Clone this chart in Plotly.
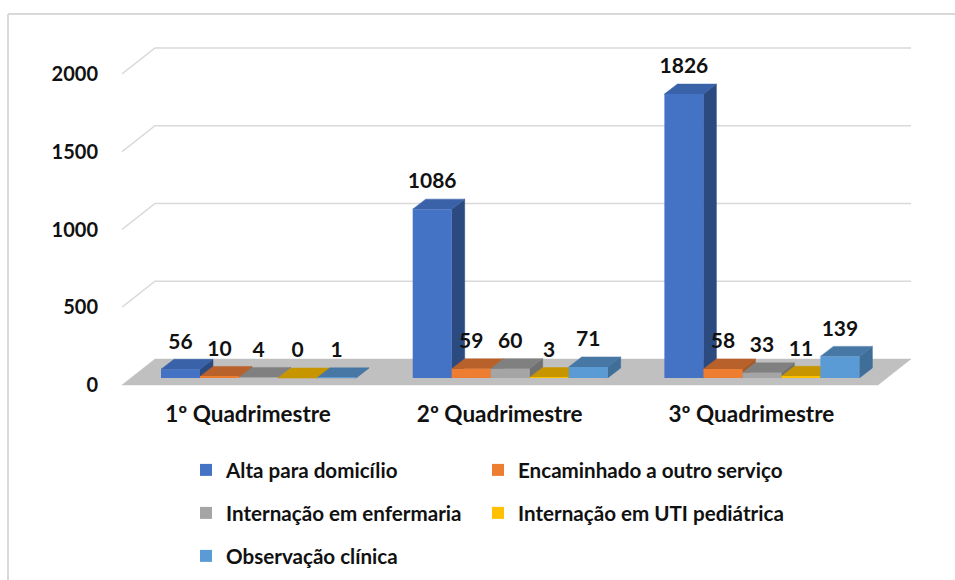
import plotly.graph_objects as go

categories = ["1º Quadrimestre", "2º Quadrimestre", "3º Quadrimestre"]
series_names = ["Alta para domicílio", "Encaminhado a outro serviço", "Internação em enfermaria",
                "Internação em UTI pediátrica", "Observação clínica"]
alta = [56, 1086, 1826]
encaminhado = [10, 59, 58]
enfermaria = [4, 60, 33]
uti = [0, 3, 11]
observacao = [1, 71, 139]
series_values = [alta, encaminhado, enfermaria, uti, observacao]
y_ticks = [0, 500, 1000, 1500, 2000]

front = ["#4472C4", "#ED7D31", "#A5A5A5", "#FFC000", "#5B9BD5"]
top = ["#3A62A8", "#B9612A", "#808080", "#C69500", "#4677A5"]
side = ["#2B4A80", "#A65A26", "#707070", "#A67D00", "#3F6E98"]

W, H = 955, 580
PX_X = 251.7            # pixels per category
PX_Y = 0.1555           # pixels per value unit
X0_PX, Y0_PX = 248, 385 # pixel of category 0 / value 0 on the front plane
L_PX, R_PX, T_PX, B_PX = 122, 940, 30, 398
FONT = "Lato"
TXT = "#111111"

ux = lambda px: px / PX_X
uy = lambda px: px / PX_Y
x_range = [(L_PX - X0_PX) / PX_X, (R_PX - X0_PX) / PX_X]
y_range = [(Y0_PX - B_PX) / PX_Y, (Y0_PX - T_PX) / PX_Y]
FLOOR_DX, FLOOR_DY = ux(33), uy(26)
BAR_DX, BAR_DY = ux(13), uy(10)
BASE = uy(7)
SHIFT = ux(10.5)
GROUP_W = ux(195)
BAR_W = GROUP_W / 5

fig = go.Figure()


def poly(xs, ys, color, axes=("x", "y")):
    fig.add_trace(go.Scatter(x=xs + xs[:1], y=ys + ys[:1], mode="lines", fill="toself", fillcolor=color,
                             line=dict(color=color, width=0.5), hoverinfo="skip", showlegend=False,
                             xaxis=axes[0], yaxis=axes[1]))


# floor
xl, xr = x_range[0], (878 - X0_PX) / PX_X
poly([xl, xr, xr + FLOOR_DX, xl + FLOOR_DX], [0, 0, FLOOR_DY, FLOOR_DY], "#C0C0C0")

# back gridlines with the left wall edge
for v in y_ticks[1:]:
    fig.add_trace(go.Scatter(x=[xl, xl + FLOOR_DX, xr + FLOOR_DX], y=[v, v + FLOOR_DY, v + FLOOR_DY], mode="lines",
                             line=dict(color="#D9D9D9", width=1.5), hoverinfo="skip", showlegend=False))

# side and top faces
for c in range(len(categories)):
    for k, vals in enumerate(series_values):
        x0 = c + SHIFT - GROUP_W / 2 + k * BAR_W
        x1 = x0 + BAR_W
        yt = BASE + vals[c]
        poly([x1, x1 + BAR_DX, x1 + BAR_DX, x1], [BASE, BASE + BAR_DY, yt + BAR_DY, yt], side[k])
        poly([x0, x1, x1 + BAR_DX, x0 + BAR_DX], [yt, yt, yt + BAR_DY, yt + BAR_DY], top[k])

# front faces, on an overlay so they sit above neighbouring side faces
bar_x = [c + SHIFT for c in range(len(categories))]
legend_pos = [(186, 470), (478, 470), (186, 513), (478, 513), (186, 556)]
for k, vals in enumerate(series_values):
    lg = "legend" if k == 0 else f"legend{k + 1}"
    fig.add_trace(go.Bar(x=bar_x, y=vals, base=BASE, name=series_names[k], marker=dict(color=front[k], line_width=0),
                         xaxis="x2", yaxis="y2", legend=lg, offsetgroup=str(k)))

# data labels
for k, vals in enumerate(series_values):
    fig.add_trace(go.Scatter(x=[c + SHIFT - GROUP_W / 2 + (k + 0.5) * BAR_W for c in range(len(categories))],
                             y=[v + BASE + uy(26) for v in vals], mode="text", text=[f"<b>{v}</b>" for v in vals],
                             textposition="middle center", textfont=dict(family=FONT, size=21, color=TXT),
                             cliponaxis=False, hoverinfo="skip", showlegend=False, xaxis="x2", yaxis="y2"))

dom_x = [L_PX / W, R_PX / W]
dom_y = [1 - B_PX / H, 1 - T_PX / H]
layout = dict(
    width=W, height=H, autosize=False, paper_bgcolor="white", plot_bgcolor="rgba(0,0,0,0)",
    margin=dict(l=0, r=0, t=0, b=0), barmode="group", bargap=1 - GROUP_W, bargroupgap=0,
    xaxis=dict(domain=dom_x, range=x_range, tickvals=list(range(3)), ticktext=[f"<b>{c}</b>" for c in categories],
               showgrid=False, zeroline=False, showline=False, ticklen=0, ticklabelstandoff=0,
               tickfont=dict(family=FONT, size=22.5, color=TXT)),
    yaxis=dict(domain=dom_y, range=y_range, tickvals=y_ticks, ticktext=[f"<b>{t}</b>" for t in y_ticks],
               showgrid=False, zeroline=False, showline=False,
               ticklen=0, ticklabelstandoff=23, tickfont=dict(family=FONT, size=20, color=TXT)),
    xaxis2=dict(domain=dom_x, range=x_range, overlaying="x", visible=False, anchor="y2"),
    yaxis2=dict(domain=dom_y, range=y_range, overlaying="y", visible=False, anchor="x2"),
    shapes=[dict(type="line", xref="paper", yref="paper", x0=8 / W, x1=1, y0=1 - 14 / H, y1=1 - 14 / H,
                 line=dict(color="#D9D9D9", width=2)),
            dict(type="line", xref="paper", yref="paper", x0=8 / W, x1=8 / W, y0=0, y1=1 - 14 / H,
                 line=dict(color="#D9D9D9", width=2))],
)
for k, (px, py) in enumerate(legend_pos):
    key = "legend" if k == 0 else f"legend{k + 1}"
    layout[key] = dict(x=px / W, y=1 - py / H, xanchor="left", yanchor="middle", bgcolor="rgba(0,0,0,0)",
                       itemwidth=30, font=dict(family=FONT, size=20.6, color=TXT, weight="bold"), itemclick=False)
fig.update_layout(**layout)
fig.write_html("out.html", config={"displayModeBar": False}, post_script="document.body.style.margin='0';")
